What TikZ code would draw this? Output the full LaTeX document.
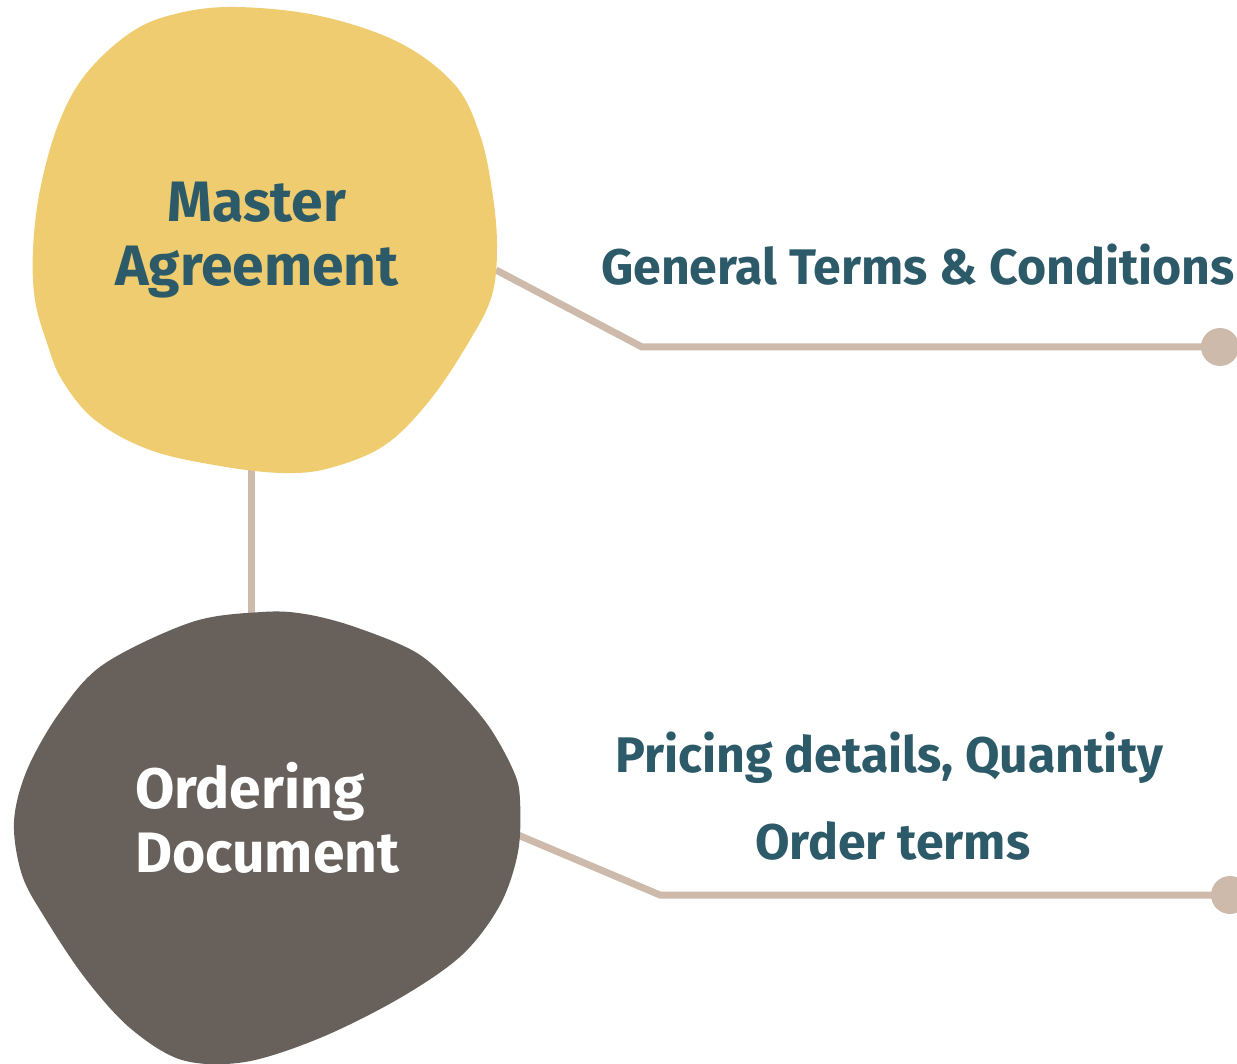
\documentclass[tikz,border=0pt]{standalone}
\usepackage{fontspec}
\newfontfamily\fira{Fira Sans}[Ligatures={NoCommon}]
\definecolor{blobyellow}{HTML}{EECC6F}
\definecolor{blobgray}{HTML}{67605B}
\definecolor{teal}{HTML}{2D5A69}
\definecolor{linec}{HTML}{CDBAAA}
\tikzset{
  conn/.style={draw=linec, line width=7pt, line join=miter},
  dot/.style={circle, fill=linec, minimum size=38pt, inner sep=0pt},
  blobtext/.style={font=\fira\bfseries\fontsize{57}{64}\selectfont, align=center, inner sep=0pt},
  sidetext/.style={font=\fira\bfseries\fontsize{50}{56}\selectfont, text=teal, inner sep=0pt, anchor=base west},
}
\begin{document}
\begin{tikzpicture}[x=1pt,y=-1pt]
\useasboundingbox (0,0) rectangle (1237,1064);
% anchor coordinates
\coordinate (maR) at (496,270);
\coordinate (maB) at (251,468);
\coordinate (odT) at (251,614);
\coordinate (odR) at (518,835);
\coordinate (k1) at (642,347);
\coordinate (k2) at (660,895);
\node[dot] (d1) at (1220,347) {};
\node[dot] (d2) at (1230,895) {};
% connectors
\draw[conn] (maR) -- (k1) -- (d1.center);
\draw[conn] (maB) -- (odT);
\draw[conn] (odR) -- (k2) -- (d2.center);
% yellow blob
\fill[blobyellow] plot[smooth cycle, tension=0.6] coordinates {
 (235,7) (320,16) (400,43) (455,85) (480,135) (492,190) (497,245)
 (492,295) (470,340) (430,400) (385,445) (330,468) (283,473)
 (220,466) (150,450) (95,420) (62,380) (47,343) (35,300) (33,250)
 (40,190) (58,125) (85,75) (130,33) (175,14)};
% gray blob
\fill[blobgray] plot[smooth cycle, tension=0.55] coordinates {
 (262,612) (192,622) (104,664) (60,712) (27,770) (14,822) (22,875)
 (45,918) (85,978) (130,1028) (182,1060) (245,1062) (320,1038)
 (400,998) (462,955) (500,905) (518,852) (520,800) (514,772)
 (490,728) (458,690) (417,653) (355,627) (305,614)};
% texts
\node[blobtext, text=teal, anchor=base] (ma1) at (257,222) {Master};
\node[blobtext, text=teal, anchor=base] (ma2) at (257,286) {Agreement};
\node[blobtext, text=white, anchor=base west] (od1) at (135,808) {Ordering};
\node[blobtext, text=white, anchor=base west] (od2) at (135,872) {Document};
\node[sidetext] (t1) at (601,285) {General Terms \& Conditions};
\node[sidetext] (t2) at (615,772) {Pricing details, Quantity};
\node[sidetext] (t3) at (755,859) {Order terms};
\end{tikzpicture}
\end{document}
